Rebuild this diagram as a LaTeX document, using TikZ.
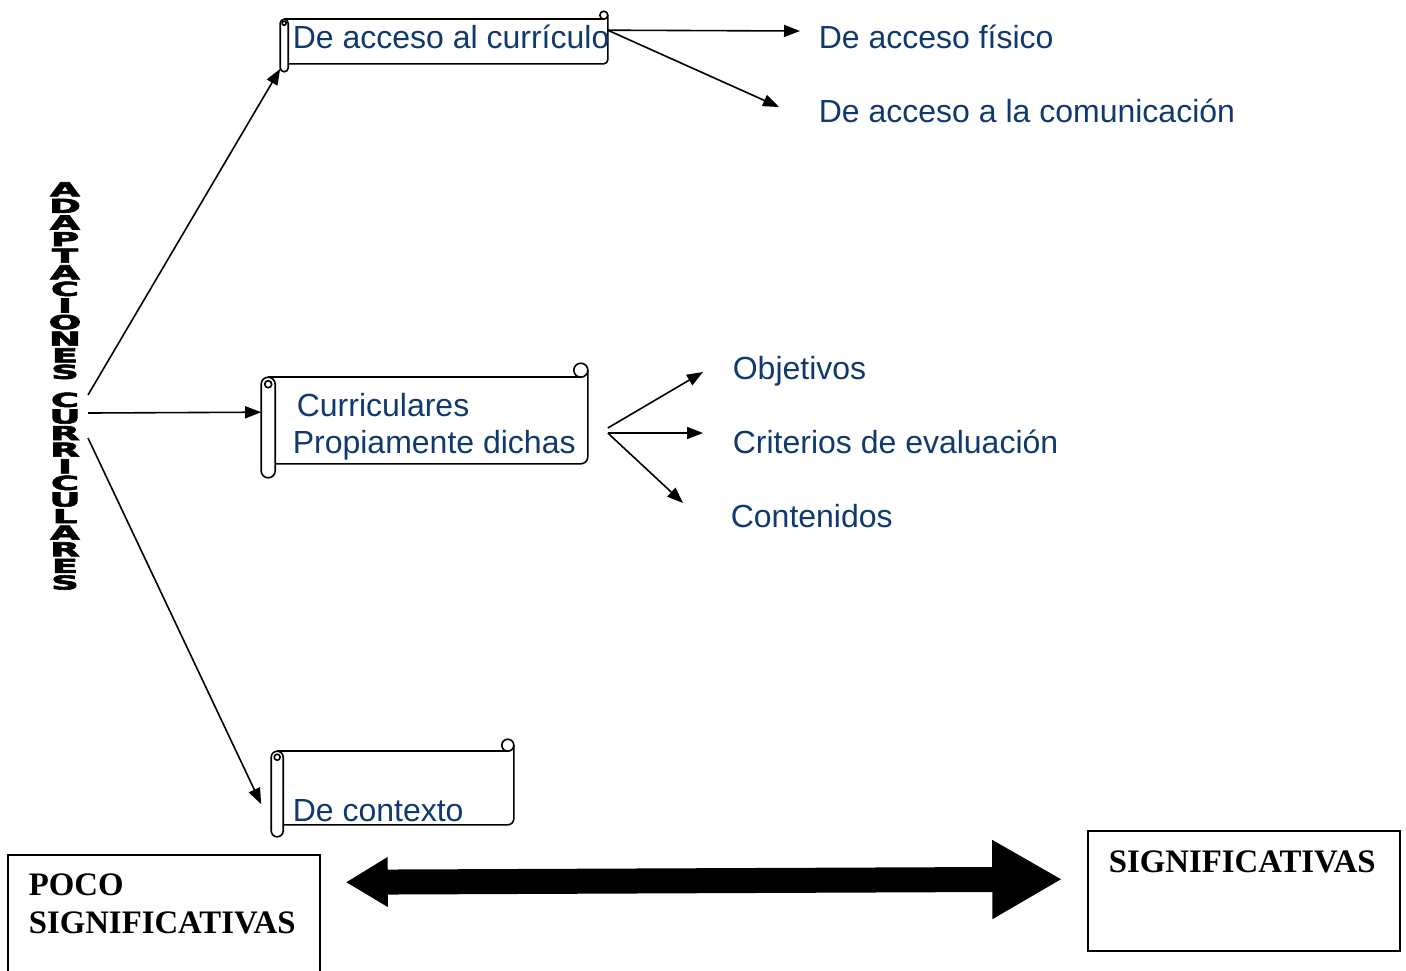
\documentclass[tikz,border=0pt]{standalone}
\usepackage{fontspec}
\setmainfont{Liberation Sans}
\newfontfamily\tiempos{Liberation Serif}
\newfontfamily\pesada[BoldFeatures={FakeBold=3}]{DejaVu Sans}
\usetikzlibrary{arrows.meta,calc,fit}
\definecolor{azul}{RGB}{16,58,110}

\newcommand\pergamino[2]{%
  \draw (#1.north west) -- ($(#1.north east)+(-#2,0)$);
  \draw ($(#1.north east)+(-#2,#2)$) circle[radius=#2];
  \draw[rounded corners=#2] ($(#1.north east)+(0,#2)$) -- (#1.south east) -- ($(#1.south west)+(#2,0)$);
  \draw[fill=white,rounded corners=#2] ($(#1.north west)+(-#2,0)$) rectangle ($(#1.south west)+(#2,-2*#2)$);
  \draw ($(#1.north west)+(0,-#2)$) circle[radius=0.5*#2];
}

\begin{document}
\begin{tikzpicture}[x=0.5pt,y=-0.5pt,line width=0.8pt,
    flecha/.style={-{Triangle[length=8pt,width=6pt]}},
    flechota/.style={line width=12.5pt,{Triangle[length=21pt,width=23.5pt]}-{Triangle[length=35pt,width=37pt]}},
    texto/.style={anchor=west,inner sep=0pt,text=azul,font=\fontsize{16}{18.5}\selectfont,text height=11.5pt,text depth=0pt},
    negrita/.style={anchor=west,inner sep=0pt,font=\tiempos\bfseries\fontsize{16.4}{19}\selectfont,text height=10.8pt,text depth=0pt},
    caja/.style={draw,inner sep=0pt},
    hoja/.style={inner sep=0pt}]
  \useasboundingbox (0,0) rectangle (1406,970);

  \begin{scope}[shift={(65,386)},xscale=2]
    \node[transform shape,inner sep=0pt,align=center,font=\pesada\bfseries\fontsize{9.6}{8.3}\selectfont] (tit) at (0,0)
      {A\\D\\A\\P\\T\\A\\C\\I\\O\\N\\E\\S\\[5.7pt]C\\U\\R\\R\\I\\C\\U\\L\\A\\R\\E\\S};
  \end{scope}

  \node[hoja,fit={(285,20) (607,63)}] (acc) {};
  \pergamino{acc}{2pt}
  \node[texto] (accTxt) at (292,37) {De acceso al currículo};

  \node[hoja,fit={(269,378) (587,463)}] (cur) {};
  \pergamino{cur}{3.5pt}
  \node[texto] (cur1) at (296,405) {Curriculares};
  \node[texto] (cur2) at (292,442) {Propiamente dichas};

  \node[hoja,fit={(278,752) (513,824)}] (ctx) {};
  \pergamino{ctx}{3pt}
  \node[texto] (ctxTxt) at (292,810) {De contexto};

  \node[texto] (fis) at (818,37) {De acceso físico};
  \node[texto] (com) at (818,111) {De acceso a la comunicación};
  \node[texto] (obj) at (732,368) {Objetivos};
  \node[texto] (crit) at (732,442) {Criterios de evaluación};
  \node[texto] (cont) at (730,516) {Contenidos};

  \draw[flecha] ([shift={(23,9)}]tit.center) -- ([shift={(-4,5)}]acc.south west);
  \draw[flecha] ([shift={(23,27)}]tit.center) -- ([shift={(-7,35)}]cur.north west);
  \draw[flecha] ([shift={(23,52)}]tit.center) -- ([shift={(-16,53)}]ctx.north west);

  \draw[flecha] ([shift={(0,11)}]acc.north east) -- ([shift={(-18,-6)}]fis.west);
  \draw[flecha] ([shift={(0,11)}]acc.north east) -- ([shift={(-39,-4)}]com.west);

  \draw[flecha] ([shift={(20,7.5)}]cur.east) -- ([shift={(-29,4)}]obj.west);
  \draw[flecha] ([shift={(20,12.5)}]cur.east) -- ([shift={(-29,-9)}]crit.west);
  \draw[flecha] ([shift={(20,12.5)}]cur.east) -- ([shift={(-47,-13)}]cont.west);

  \node[caja,fit={(8,855) (320,975)}] (poco) {};
  \node[negrita] (poco1) at (28,885) {POCO};
  \node[negrita] (poco2) at (28,923) {SIGNIFICATIVAS};
  \node[caja,fit={(1088,831) (1400,951)}] (sig) {};
  \node[negrita] (sigTxt) at (1108,862) {SIGNIFICATIVAS};

  \draw[flechota] ([shift={(25,28)}]poco.north east) -- ([shift={(-25,49)}]sig.north west);
\end{tikzpicture}
\end{document}
